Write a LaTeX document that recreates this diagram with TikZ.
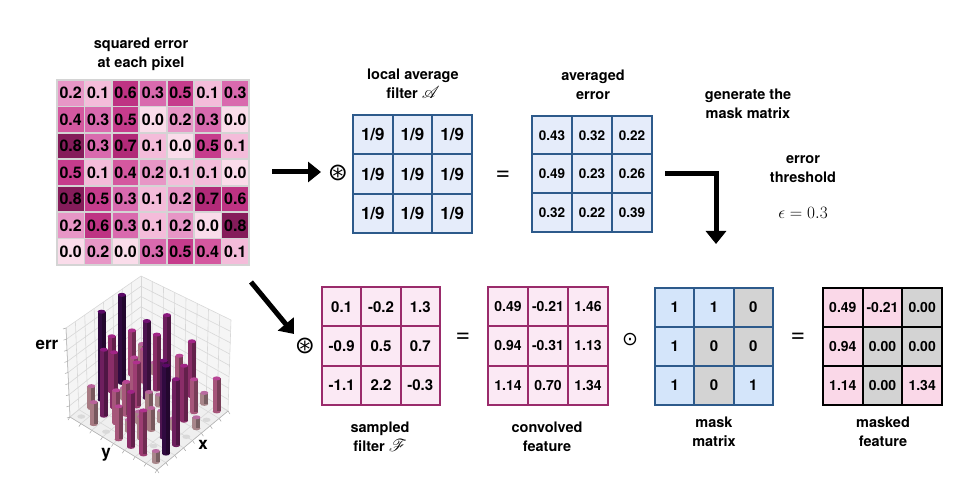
\documentclass[tikz,border=0pt]{standalone}
\usepackage{amssymb}
\usepackage{mathrsfs}
\usepackage{fontspec}
\setmainfont{TeX Gyre Heros}
\newfontfamily\symfont{DejaVu Sans}
\usetikzlibrary{arrows.meta,calc}
% heatmap colours
\definecolor{h0}{HTML}{FADCEA}
\definecolor{h1}{HTML}{F4BCDA}
\definecolor{h2}{HTML}{E796C6}
\definecolor{h3}{HTML}{D96AAE}
\definecolor{h4}{HTML}{D4589F}
\definecolor{h5}{HTML}{C63C8C}
\definecolor{h6}{HTML}{BE3383}
\definecolor{h7}{HTML}{B12A78}
\definecolor{h8}{HTML}{851C5A}
\definecolor{hmgrid}{HTML}{D4D4D4}
% bar colours
\definecolor{b1}{HTML}{A8868A}
\definecolor{b2}{HTML}{A77A82}
\definecolor{b3}{HTML}{A6567A}
\definecolor{b4}{HTML}{9C3D72}
\definecolor{b5}{HTML}{8A2D68}
\definecolor{b6}{HTML}{6E1F5E}
\definecolor{b7}{HTML}{4E1550}
\definecolor{b8}{HTML}{300A40}
% matrix colours
\definecolor{ablue}{HTML}{E5ECFA}
\definecolor{aborder}{HTML}{2D5A8B}
\definecolor{mblue}{HTML}{D4E5FA}
\definecolor{mgrey}{HTML}{D3D3D3}
\definecolor{pfill}{HTML}{FBE9F4}
\definecolor{pborder}{HTML}{9A2B6B}
\definecolor{pk}{HTML}{FAD8E8}
\definecolor{panefill}{HTML}{F5F5F5}
\definecolor{floorfill}{HTML}{EFEFEF}
\definecolor{panegrid}{HTML}{D8D8D8}
\begin{document}
\begin{tikzpicture}[x=1pt,y=-1pt,
  hmcell/.style={minimum width=27.43pt, minimum height=26.43pt, inner sep=0pt,
    draw=hmgrid, line width=1.6pt, font=\fontsize{16}{16}\bfseries},
  mcell/.style={minimum width=39.5pt, minimum height=39.2pt, inner sep=0pt, line width=2pt},
  lab/.style={align=center, font=\fontsize{14.5}{19}\bfseries, inner sep=0pt},
  opsym/.style={inner sep=0pt, font=\fontsize{24}{24}\symfont},
  eqsym/.style={inner sep=0pt, font=\fontsize{25}{25}\selectfont},
  bigarrow/.style={line width=5pt, -{Triangle[length=13pt,width=20pt]}},
  gridln/.style={draw=panegrid, line width=0.6pt},
  zerodot/.style={fill=gray!30}
]
\useasboundingbox (0,0) rectangle (972,494);

% ---------------- heatmap ----------------
\def\hmdata{{2,1,6,3,5,1,3, 4,3,5,0,2,3,0, 8,3,7,1,0,5,1, 5,1,4,2,1,1,0, 8,5,3,1,2,7,6, 2,6,3,1,2,0,8, 0,2,0,3,5,4,1}}
\node[lab] (tSq) at (141,54) {squared error\\at each pixel};
\foreach \i in {0,...,6}{
  \foreach \j in {0,...,6}{
    \pgfmathtruncatemacro\v{\hmdata[\i*7+\j]}
    \node[hmcell, fill=h\v] (H-\i-\j) at ({57+27.43*(\j+0.5)},{80+26.43*(\i+0.5)}) {0.\v};
  }
}

% ---------------- 3D bar chart ----------------
\coordinate (pL) at (70,417);
\coordinate (pF) at (157,470);
\coordinate (pR) at (228,411);
\coordinate (pB) at (141,358);
\coordinate (pLt) at (66,328);
\coordinate (pBt) at (141,276);
\coordinate (pRt) at (231,320);
\fill[panefill] (pL)--(pB)--(pBt)--(pLt)--cycle;
\fill[panefill] (pB)--(pR)--(pRt)--(pBt)--cycle;
\fill[floorfill] (pL)--(pF)--(pR)--(pB)--cycle;
\foreach \t in {0,0.125,...,1.01}{
  \draw[gridln] ($(pB)!\t!(pR)$) -- ($(pL)!\t!(pF)$);
  \draw[gridln] ($(pB)!\t!(pL)$) -- ($(pR)!\t!(pF)$);
  \draw[gridln] ($(pL)!\t!(pB)$) -- ($(pLt)!\t!(pBt)$);
  \draw[gridln] ($(pL)!\t!(pLt)$) -- ($(pB)!\t!(pBt)$);
  \draw[gridln] ($(pB)!\t!(pR)$) -- ($(pBt)!\t!(pRt)$);
  \draw[gridln] ($(pB)!\t!(pBt)$) -- ($(pR)!\t!(pRt)$);
  \draw[gray!70, line width=0.5pt] ($(pL)!\t!(pLt)$) -- ++(-3,1);
  \draw[gray!70, line width=0.5pt] ($(pL)!\t!(pF)$) -- ++(-2,3);
  \draw[gray!70, line width=0.5pt] ($(pF)!\t!(pR)$) -- ++(2,3);
}
\draw[gray!60, line width=0.5pt] (pLt)--(pL)--(pF)--(pR);
\foreach \d in {0,...,12}{
  \foreach \i in {0,...,6}{
    \pgfmathtruncatemacro\j{\d-\i}
    \ifnum\j>-1 \ifnum\j<7
      \pgfmathtruncatemacro\v{\hmdata[\i*7+\j]}
      \pgfmathsetmacro\bx{141+(87*(\j+0.5)-71*(\i+0.5))/7}
      \pgfmathsetmacro\by{358+(53*(\j+0.5)+59*(\i+0.5))/7}
      \ifnum\v=0
        \fill[zerodot] (\bx,\by) ellipse (4 and 2.2);
      \else
        \pgfmathsetmacro\bh{11*\v}
        \fill[b\v] (\bx,\by) ellipse (4 and 2);
        \fill[b\v] (\bx-4,\by) rectangle (\bx,\by-\bh);
        \fill[b\v!72!black] (\bx,\by) rectangle (\bx+4,\by-\bh);
        \fill[b\v!80!magenta] (\bx,\by-\bh) ellipse (4 and 2);
      \fi
    \fi\fi
  }
}
\node[inner sep=0pt, font=\fontsize{17}{17}\bfseries] (errlab) at (47,345) {err};
\node[inner sep=0pt, font=\fontsize{17}{17}\bfseries] (ylab) at (106,455) {y};
\node[inner sep=0pt, font=\fontsize{17}{17}\bfseries] (xlab) at (203,445) {x};

% ---------------- top row ----------------
\node[opsym] (ast1) at (338,173) {⊛};
\node[lab] (tA) at (413,84) {local average\\filter {\fontsize{17}{17}\selectfont$\mathscr{A}$}};
\foreach \r in {0,1,2}{
  \foreach \c in {0,1,2}{
    \node[mcell, draw=aborder, fill=ablue, font=\fontsize{17}{17}\bfseries]
      (A-\r-\c) at ({353+39.67*(\c+0.5)},{115+39.33*(\r+0.5)}) {1/9};
  }
}
\node[eqsym] (eq1) at (503,176) {=};
\node[lab] (tE) at (593,85) {averaged\\error};
\foreach \t [count=\k from 0] in {0.43,0.32,0.22,0.49,0.23,0.26,0.32,0.22,0.39}{
  \pgfmathtruncatemacro\r{int(\k/3)}
  \pgfmathtruncatemacro\c{mod(\k,3)}
  \node[mcell, draw=aborder, fill=ablue, font=\fontsize{13.5}{13.5}\bfseries]
    (E-\r-\c) at ({532+40*(\c+0.5)},{116+38.67*(\r+0.5)}) {\t};
}
\node[lab] (tGen) at (748,104) {generate the\\mask matrix};
\node[lab] (tThr) at (803,169) {error\\threshold};
\node[inner sep=0pt, font=\fontsize{17.5}{17.5}\selectfont] (eps) at (803,213) {$\epsilon = 0.3$};

% ---------------- bottom row ----------------
\node[opsym] (ast2) at (305,346) {⊛};
\foreach \t [count=\k from 0] in {0.1,-0.2,1.3,-0.9,0.5,0.7,-1.1,2.2,-0.3}{
  \pgfmathtruncatemacro\r{int(\k/3)}
  \pgfmathtruncatemacro\c{mod(\k,3)}
  \node[mcell, draw=pborder, fill=pfill, font=\fontsize{15}{15}\bfseries]
    (F-\r-\c) at ({322+39.33*(\c+0.5)},{287+39.33*(\r+0.5)}) {\t};
}
\node[lab] (tF) at (380,437) {sampled\\filter {\fontsize{17}{17}\selectfont$\mathscr{F}$}};
\node[eqsym] (eq2) at (463,338) {=};
\foreach \t [count=\k from 0] in {0.49,-0.21,1.46,0.94,-0.31,1.13,1.14,0.70,1.34}{
  \pgfmathtruncatemacro\r{int(\k/3)}
  \pgfmathtruncatemacro\c{mod(\k,3)}
  \node[mcell, draw=pborder, fill=pfill, font=\fontsize{14}{14}\bfseries]
    (C-\r-\c) at ({488+40*(\c+0.5)},{287+39.33*(\r+0.5)}) {\t};
}
\node[lab] (tC) at (547,437) {convolved\\feature};
\node[inner sep=0pt, font=\fontsize{19}{19}\symfont] (odot) at (630,340) {⊙};
\foreach \t/\f [count=\k from 0] in {1/mblue,1/mblue,0/mgrey,1/mblue,0/mgrey,0/mgrey,1/mblue,0/mgrey,1/mblue}{
  \pgfmathtruncatemacro\r{int(\k/3)}
  \pgfmathtruncatemacro\c{mod(\k,3)}
  \node[mcell, draw=aborder, fill=\f, font=\fontsize{15}{15}\bfseries]
    (M-\r-\c) at ({655+39.33*(\c+0.5)},{288+39*(\r+0.5)}) {\t};
}
\node[lab] (tM) at (714,432) {mask\\matrix};
\node[eqsym] (eq3) at (798,338) {=};
\foreach \t/\f [count=\k from 0] in {0.49/pk,-0.21/pk,0.00/mgrey,0.94/pk,0.00/mgrey,0.00/mgrey,1.14/pk,0.00/mgrey,1.34/pk}{
  \pgfmathtruncatemacro\r{int(\k/3)}
  \pgfmathtruncatemacro\c{mod(\k,3)}
  \node[mcell, draw=black, fill=\f, font=\fontsize{14}{14}\bfseries]
    (R-\r-\c) at ({823+39.67*(\c+0.5)},{288+39*(\r+0.5)}) {\t};
}
\node[lab] (tR) at (883,432) {masked\\feature};

% ---------------- arrows ----------------
\coordinate (a1s) at (272,172);
\coordinate (a1e) at (321,172);
\draw[bigarrow] (a1s) -- (a1e);
\coordinate (a2s) at (251,282);
\coordinate (a2e) at (294,334);
\draw[bigarrow] (a2s) -- (a2e);
\coordinate (a3s) at (665,174);
\coordinate (a3e) at (716,244);
\draw[bigarrow] (a3s) -| (a3e);
\end{tikzpicture}
\end{document}
